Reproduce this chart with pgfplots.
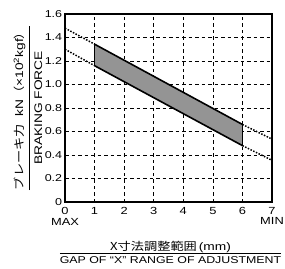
\documentclass[border=0pt]{standalone}
\usepackage{pgfplots}
\pgfplotsset{compat=1.18}
\usepackage{fontspec}
\setmainfont{Liberation Sans}[FakeStretch=1.25]
\newfontfamily\cjk{Noto Sans CJK JP}[FakeStretch=1.2]
\usetikzlibrary{calc}
\begin{document}
\begin{tikzpicture}
\fontsize{11}{12}\selectfont
\begin{axis}[
  width=207pt, height=188pt, scale only axis,
  xmin=0, xmax=7, ymin=0, ymax=1.6,
  xtick={0,1,2,3,4,5,6,7},
  xticklabels={{0\\MAX},1,2,3,4,5,6,{7\\MIN}},
  xticklabel style={align=center, anchor=north, yshift=-1.5pt, font=\fontsize{10.3}{10.5}\selectfont},
  ytick={0,0.2,0.4,0.6,0.8,1.0,1.2,1.4,1.6},
  yticklabels={0,0.2,0.4,0.6,0.8,1.0,1.2,1.4,1.6},
  yticklabel style={font=\fontsize{10}{12}\selectfont, xshift=1pt},
  /pgf/number format/assume math mode=true,
  major tick length=0pt,
  grid=major,
  major grid style={black, line width=0.6pt, dash pattern=on 3.5pt off 3pt},
  axis line style={black, line width=1.4pt},
  xlabel={\begin{tabular}{@{}c@{}}{\cjk X寸法調整範囲}\,(mm)\\[-0.6pt]\hline \rule{0pt}{10pt}{\fontsize{9.9}{12}\selectfont GAP OF “X” RANGE OF ADJUSTMENT}\end{tabular}},
  xlabel style={font=\fontsize{11}{12}\selectfont, at={(axis description cs:0.5,0)}, anchor=south, inner sep=0pt, yshift=-65.6pt, xshift=2pt},
  ylabel={\begin{tabular}{@{}c@{}}{\cjk ブレーキ力}\ \ kN{\cjk （}×10\textsuperscript{2}kgf{\cjk ）}\\[2pt]\hline \rule{0pt}{13pt}BRAKING FORCE\end{tabular}},
  ylabel style={font=\fontsize{11}{12}\selectfont, at={(axis description cs:-0.092,0.5)}, anchor=south, inner sep=0pt},
  clip=true,
]
\addplot[fill=black!42, draw=none] coordinates {(1,1.343) (6,0.66) (6,0.48) (1,1.16)} -- cycle;
\addplot[black, line width=1.6pt] coordinates {(1,1.343) (6,0.66)};
\addplot[black, line width=1.6pt] coordinates {(1,1.16) (6,0.48)};
\addplot[black, line width=1.5pt, dash pattern=on 1.5pt off 1.5pt] coordinates {(0,1.48) (1,1.343)};
\addplot[black, line width=1.5pt, dash pattern=on 1.5pt off 1.5pt] coordinates {(6,0.66) (7,0.535)};
\addplot[black, line width=1.5pt, dash pattern=on 1.5pt off 1.5pt] coordinates {(0,1.30) (1,1.16)};
\addplot[black, line width=1.5pt, dash pattern=on 1.5pt off 1.5pt] coordinates {(6,0.48) (7,0.355)};
\draw[black, line width=0.6pt] (axis cs:1,1.343) -- (axis cs:1,1.16);
\draw[black, line width=0.6pt] (axis cs:6,0.66) -- (axis cs:6,0.48);
\end{axis}
\pgfresetboundingbox
\path[use as bounding box] ($(current axis.south west)+(-65pt,-66pt)$) rectangle ($(current axis.north east)+(13pt,14pt)$);
\end{tikzpicture}
\end{document}
